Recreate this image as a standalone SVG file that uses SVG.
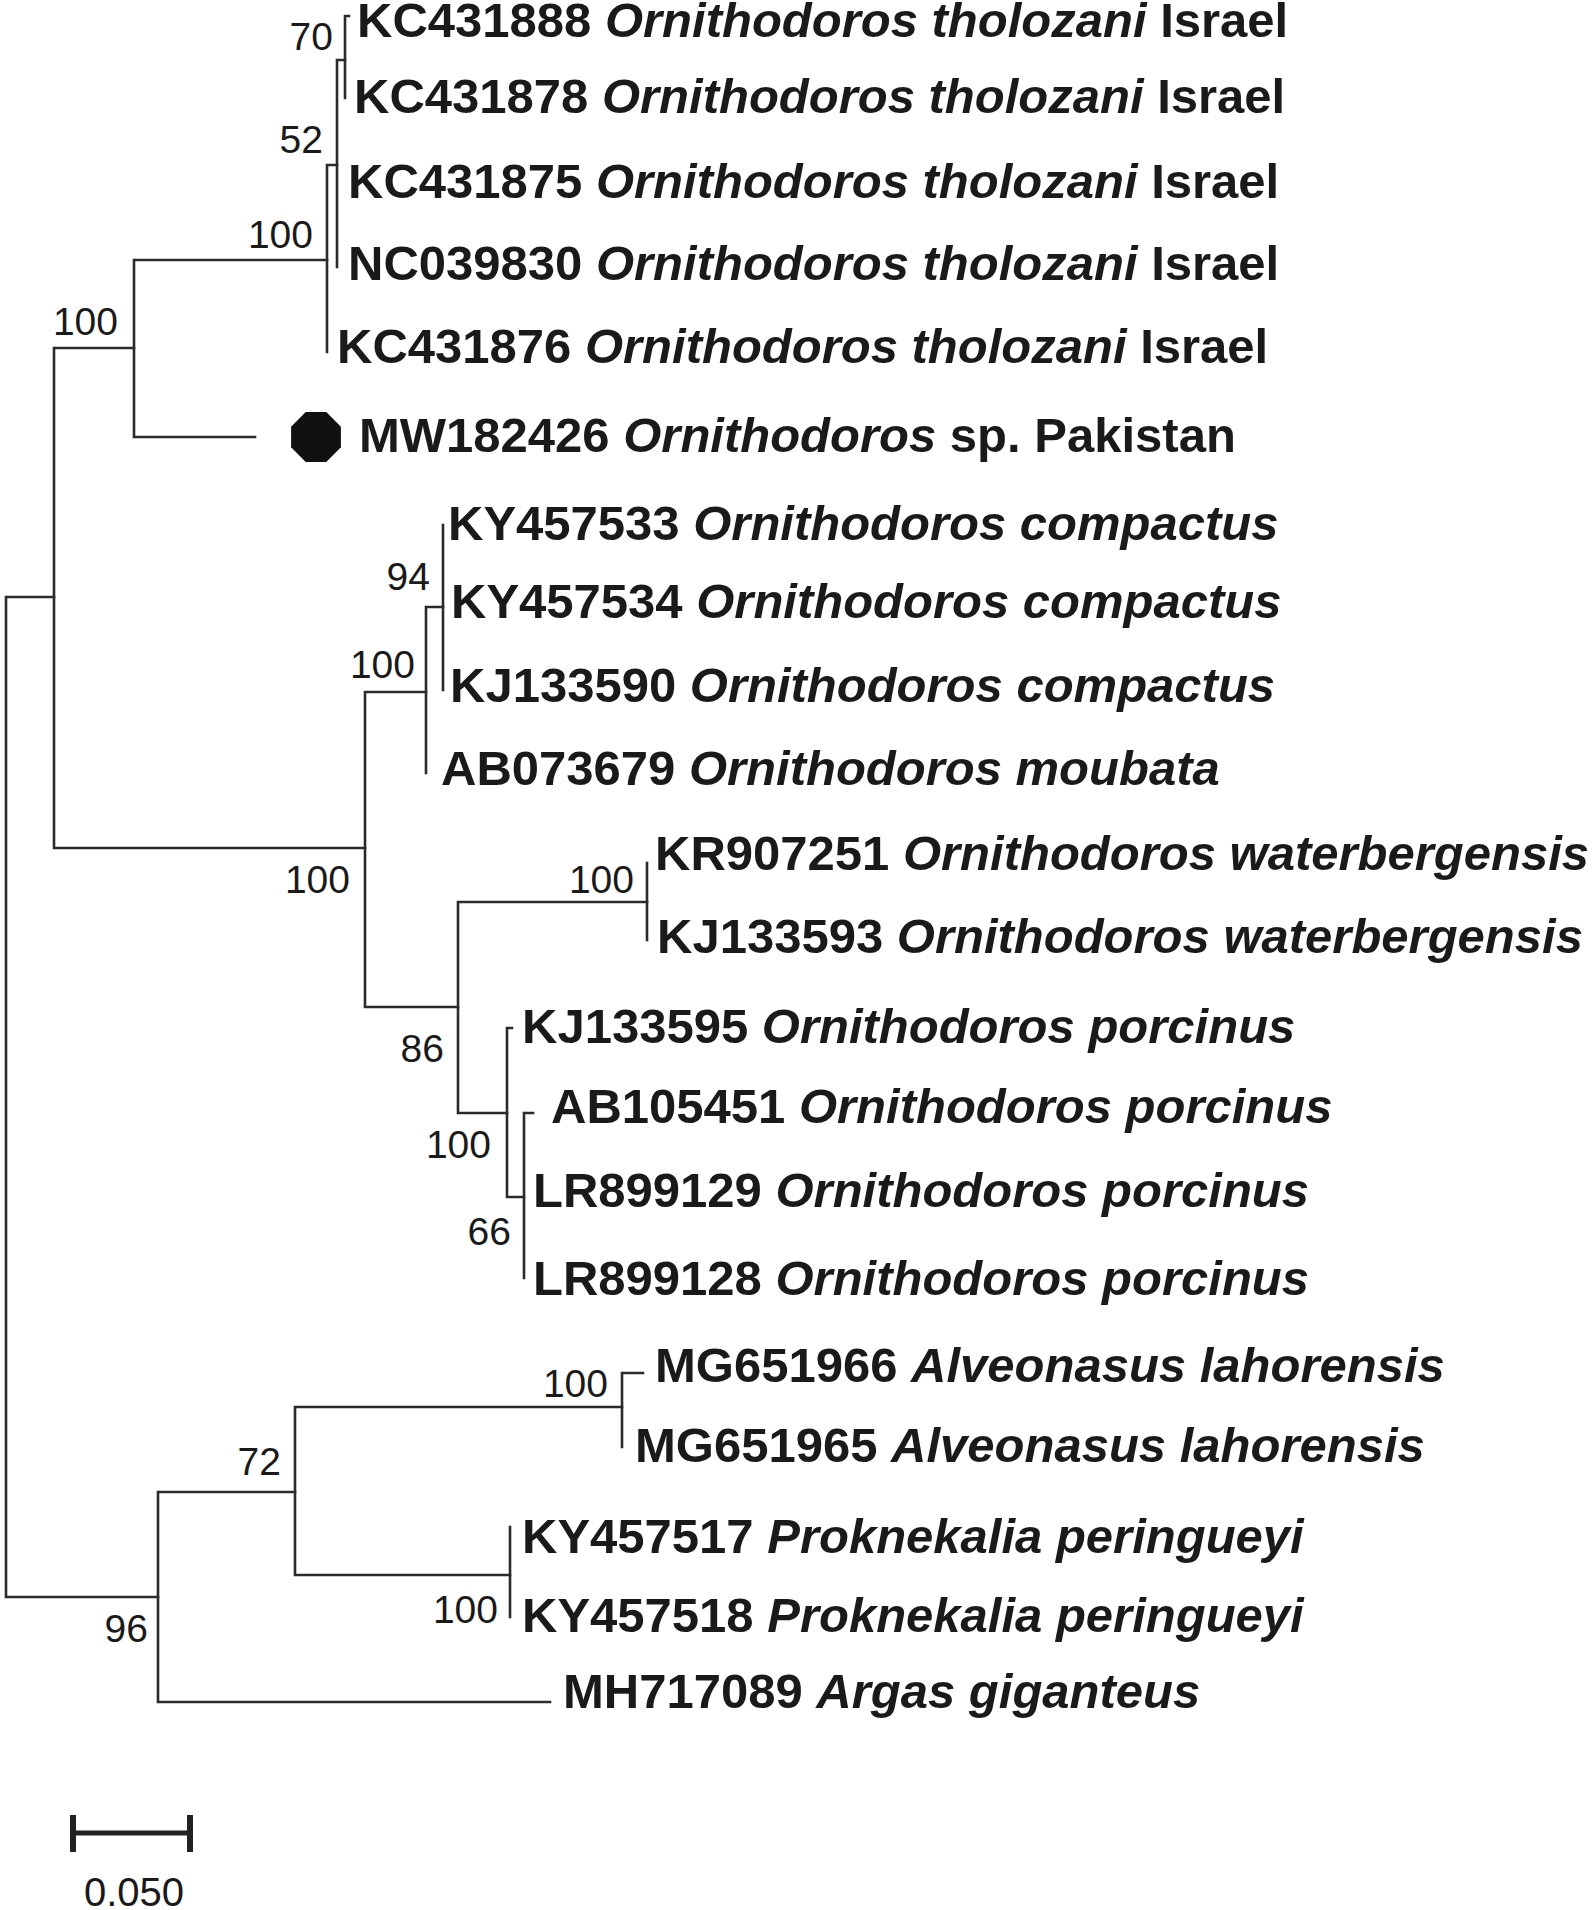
<svg xmlns="http://www.w3.org/2000/svg" width="1594" height="1910" viewBox="0 0 1594 1910">
<style>
.br{stroke:#2b2b2b;stroke-width:2.6;fill:none;stroke-linecap:square}
.tip{font-family:"Liberation Sans",Arial,sans-serif;font-weight:bold;font-size:49px;fill:#1a1a1a}
.it{font-style:italic}
.bs{font-family:"Liberation Sans",Arial,sans-serif;font-size:39px;fill:#1a1a1a;text-anchor:end}
.sc{stroke:#222;fill:none}
</style>
<rect width="1594" height="1910" fill="#fff"/>
<g id="connectors">
<path class="br" d="M6 597V1597M6 597H54M6 1597H158"/>
<path class="br" d="M54 348V848M54 348H134M54 848H365"/>
<path class="br" d="M134 260V437M134 260H327M134 437H255"/>
<path class="br" d="M327 165V352M327 165H337"/>
<path class="br" d="M337 60V267M337 60H345"/>
<path class="br" d="M345 16V98M345 16H349"/>
<path class="br" d="M365 692V1007M365 692H426M365 1007H458"/>
<path class="br" d="M426 607V773M426 607H443"/>
<path class="br" d="M443 525V690"/>
<path class="br" d="M458 902V1113M458 902H647M458 1113H507"/>
<path class="br" d="M647 863V940"/>
<path class="br" d="M507 1028V1197M507 1028H512M507 1197H524"/>
<path class="br" d="M524 1113V1278M524 1113H533"/>
<path class="br" d="M158 1492V1702M158 1492H295M158 1702H550"/>
<path class="br" d="M295 1407V1575M295 1407H622M295 1575H510"/>
<path class="br" d="M622 1373V1447M622 1373H643"/>
<path class="br" d="M510 1527V1617"/>
</g>
<g id="marker-MW182426">
<polygon points="326.3,412 340.9,426.7 340.9,447.3 326.3,462 305.7,462 291.1,447.3 291.1,426.7 305.7,412" fill="#111"/>
</g>
<g id="tips">
<g id="t1"><text class="tip" x="357" y="37">KC431888 <tspan class="it">Ornithodoros tholozani</tspan> Israel</text></g>
<g id="t2"><text class="tip" x="354" y="113">KC431878 <tspan class="it">Ornithodoros tholozani</tspan> Israel</text></g>
<g id="t3"><text class="tip" x="348" y="198">KC431875 <tspan class="it">Ornithodoros tholozani</tspan> Israel</text></g>
<g id="t4"><text class="tip" x="348" y="280">NC039830 <tspan class="it">Ornithodoros tholozani</tspan> Israel</text></g>
<g id="t5"><text class="tip" x="337" y="363">KC431876 <tspan class="it">Ornithodoros tholozani</tspan> Israel</text></g>
<g id="t6"><text class="tip" x="359" y="452">MW182426 <tspan class="it">Ornithodoros</tspan> sp. Pakistan</text></g>
<g id="t7"><text class="tip" x="448" y="540">KY457533 <tspan class="it">Ornithodoros compactus</tspan></text></g>
<g id="t8"><text class="tip" x="451" y="618">KY457534 <tspan class="it">Ornithodoros compactus</tspan></text></g>
<g id="t9"><text class="tip" x="450" y="702">KJ133590 <tspan class="it">Ornithodoros compactus</tspan></text></g>
<g id="t10"><text class="tip" x="441" y="785">AB073679 <tspan class="it">Ornithodoros moubata</tspan></text></g>
<g id="t11"><text class="tip" x="655" y="870">KR907251 <tspan class="it">Ornithodoros waterbergensis</tspan></text></g>
<g id="t12"><text class="tip" x="657" y="953">KJ133593 <tspan class="it">Ornithodoros waterbergensis</tspan></text></g>
<g id="t13"><text class="tip" x="522" y="1043">KJ133595 <tspan class="it">Ornithodoros porcinus</tspan></text></g>
<g id="t14"><text class="tip" x="551" y="1123">AB105451 <tspan class="it">Ornithodoros porcinus</tspan></text></g>
<g id="t15"><text class="tip" x="533" y="1207">LR899129 <tspan class="it">Ornithodoros porcinus</tspan></text></g>
<g id="t16"><text class="tip" x="533" y="1295">LR899128 <tspan class="it">Ornithodoros porcinus</tspan></text></g>
<g id="t17"><text class="tip" x="655" y="1382">MG651966 <tspan class="it">Alveonasus lahorensis</tspan></text></g>
<g id="t18"><text class="tip" x="635" y="1462">MG651965 <tspan class="it">Alveonasus lahorensis</tspan></text></g>
<g id="t19"><text class="tip" x="522" y="1553">KY457517 <tspan class="it">Proknekalia peringueyi</tspan></text></g>
<g id="t20"><text class="tip" x="522" y="1632">KY457518 <tspan class="it">Proknekalia peringueyi</tspan></text></g>
<g id="t21"><text class="tip" x="563" y="1708">MH717089 <tspan class="it">Argas giganteus</tspan></text></g>
</g>
<g id="bootstrap">
<text class="bs" x="333" y="50">70</text>
<text class="bs" x="323" y="153">52</text>
<text class="bs" x="313" y="248">100</text>
<text class="bs" x="118" y="335">100</text>
<text class="bs" x="430" y="590">94</text>
<text class="bs" x="415" y="678">100</text>
<text class="bs" x="350" y="893">100</text>
<text class="bs" x="634" y="893">100</text>
<text class="bs" x="444" y="1062">86</text>
<text class="bs" x="491" y="1158">100</text>
<text class="bs" x="511" y="1245">66</text>
<text class="bs" x="608" y="1397">100</text>
<text class="bs" x="281" y="1475">72</text>
<text class="bs" x="498" y="1623">100</text>
<text class="bs" x="148" y="1642">96</text>
</g>
<g id="scale-bar">
<path class="sc" stroke-width="5" d="M73 1833H190"/>
<path class="sc" stroke-width="6" d="M73 1815V1852M190 1815V1852"/>
<text x="134" y="1906" text-anchor="middle" font-family="'Liberation Sans',Arial,sans-serif" font-size="40" fill="#1a1a1a">0.050</text>
</g>
</svg>
